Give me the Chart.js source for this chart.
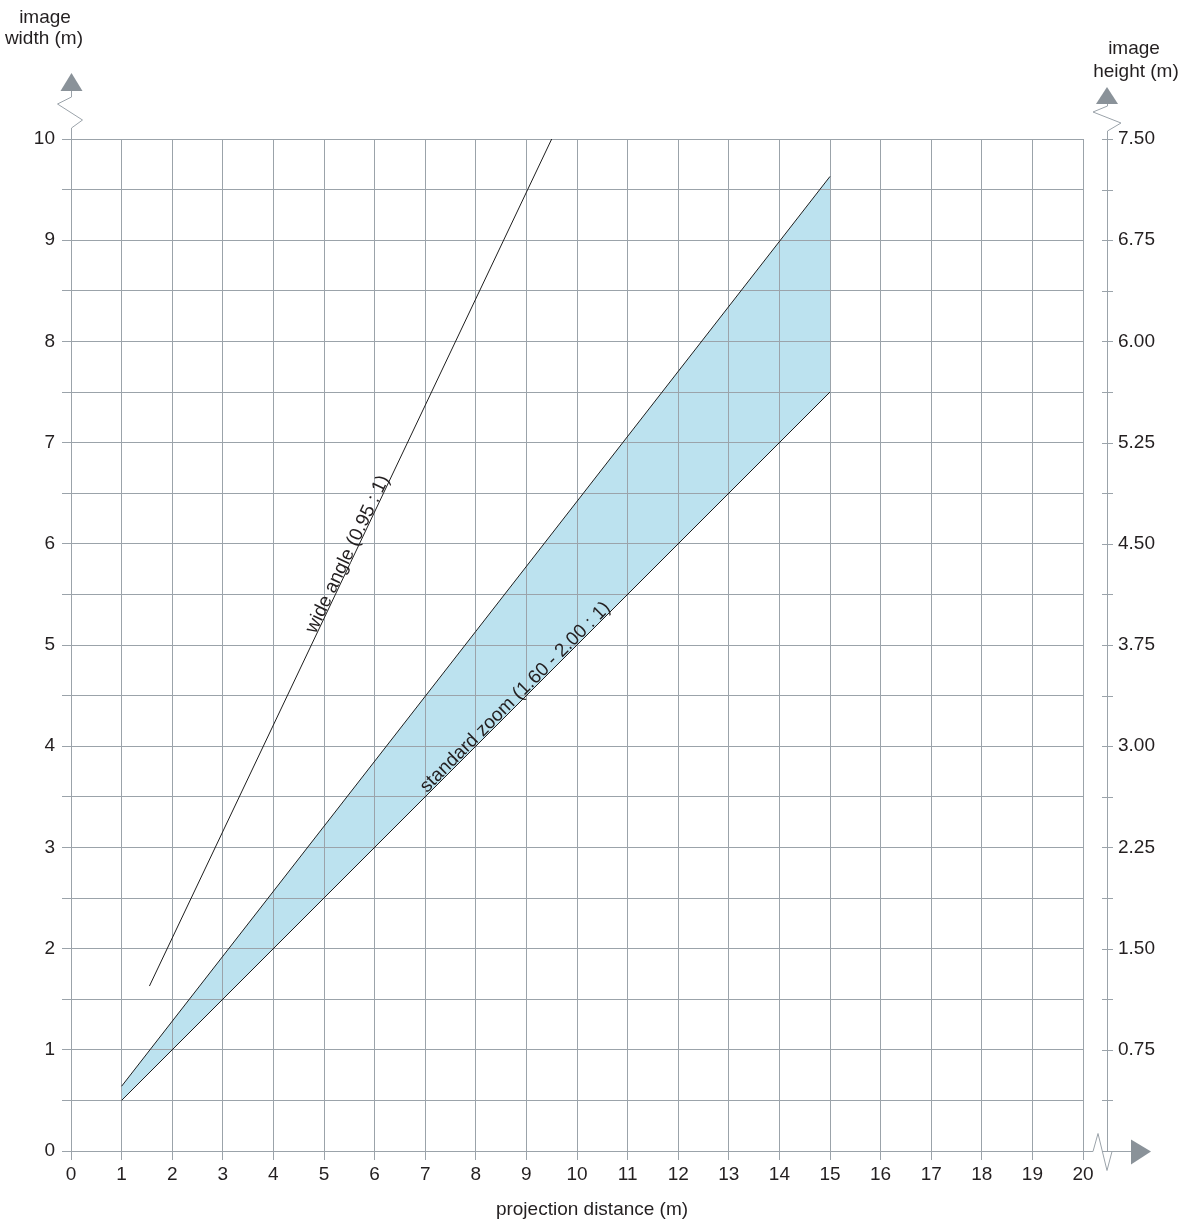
<!DOCTYPE html>
<html>
<head>
<meta charset="utf-8">
<script src="https://cdn.jsdelivr.net/npm/chart.js@4.4.0/dist/chart.umd.min.js"></script>
<style>
  html, body { margin: 0; padding: 0; background: #fff; }
  #wrap { width: 1180px; height: 1224px; }
</style>
</head>
<body>
<div id="wrap"><canvas id="chart"></canvas></div>
<script>
// projection distance (m) vs image width (m)
var zoomDist = [1, 15];
var zoomMaxWidth = [0.64, 9.63];   // upper edge of standard zoom
var zoomMinWidth = [0.5, 7.5];     // lower edge (2.00 : 1)
var wideDist = [1.55, 9.5];
var wideWidth = [1.63, 10];

var gridCol = '#9ba3aa';
var textCol = '#231f20';
var fontFam = '"Liberation Sans", Arial, sans-serif';
var fontSize = 19;

function pts(xs, ys) {
	var out = [];
	for (let i = 0; i < xs.length; i++) out.push({x: xs[i], y: ys[i]});
	return out;
}

function lineLabel(chart, text, xs, ys, cx, cy) {
	var sx = chart.scales.x, sy = chart.scales.y;
	var x0 = sx.getPixelForValue(xs[0]), y0 = sy.getPixelForValue(ys[0]);
	var x1 = sx.getPixelForValue(xs[1]), y1 = sy.getPixelForValue(ys[1]);
	var ang = Math.atan2(y1 - y0, x1 - x0);
	var ctx = chart.ctx;
	ctx.save();
	ctx.translate(sx.getPixelForValue(cx), sy.getPixelForValue(cy));
	ctx.rotate(ang);
	ctx.font = fontSize + 'px ' + fontFam;
	ctx.fillStyle = textCol;
	ctx.textAlign = 'center';
	ctx.textBaseline = 'alphabetic';
	ctx.fillText(text, 0, -1);
	ctx.restore();
}

var extras = {
	id: 'extras',
	beforeDatasetsDraw: function(chart) {
		// grid over the blue band
		chart.scales.x.drawGrid(chart.chartArea);
		chart.scales.y.drawGrid(chart.chartArea);
	},
	afterDraw: function(chart) {
		var ctx = chart.ctx;
		var a = chart.chartArea;
		var y2 = chart.scales.y2;
		var ax = a.right + 24;
		ctx.save();
		ctx.strokeStyle = gridCol;
		ctx.lineWidth = 1;

		// left axis break + arrow
		var lx = a.left + 0.5;
		ctx.beginPath();
		ctx.moveTo(lx, a.top);
		ctx.lineTo(lx, a.top - 11);
		ctx.lineTo(lx + 11, a.top - 19);
		ctx.lineTo(lx - 14, a.top - 35);
		ctx.lineTo(lx, a.top - 42);
		ctx.lineTo(lx, a.top - 48);
		ctx.stroke();

		// right axis line + break
		ctx.beginPath();
		ctx.moveTo(ax + 0.5, a.bottom);
		ctx.lineTo(ax + 0.5, a.top - 8);
		ctx.lineTo(ax + 14, a.top - 16);
		ctx.lineTo(ax - 14, a.top - 27);
		ctx.lineTo(ax + 0.5, a.top - 33);
		ctx.lineTo(ax + 0.5, a.top - 35);
		ctx.stroke();

		// right axis ticks
		y2.ticks.forEach(function(t) {
			var py = Math.round(y2.getPixelForValue(t.value)) + 0.5;
			ctx.beginPath();
			ctx.moveTo(ax - 5, py);
			ctx.lineTo(ax + 6, py);
			ctx.stroke();
		});

		// x axis extension + break
		var by = a.bottom + 0.5;
		ctx.beginPath();
		ctx.moveTo(a.right, by);
		ctx.lineTo(a.right + 10, by);
		ctx.lineTo(a.right + 15, by - 18);
		ctx.lineTo(ax, by + 19);
		ctx.lineTo(ax + 5, by);
		ctx.lineTo(ax + 25, by);
		ctx.stroke();

		// arrow heads
		ctx.fillStyle = '#8a9299';
		ctx.beginPath();
		ctx.moveTo(lx - 11, a.top - 48);
		ctx.lineTo(lx + 11, a.top - 48);
		ctx.lineTo(lx, a.top - 66);
		ctx.closePath();
		ctx.fill();
		ctx.beginPath();
		ctx.moveTo(ax - 11, a.top - 35);
		ctx.lineTo(ax + 11, a.top - 35);
		ctx.lineTo(ax, a.top - 52);
		ctx.closePath();
		ctx.fill();
		ctx.beginPath();
		ctx.moveTo(ax + 24, by - 12);
		ctx.lineTo(ax + 24, by + 13);
		ctx.lineTo(ax + 44, by);
		ctx.closePath();
		ctx.fill();

		// axis titles
		ctx.fillStyle = textCol;
		ctx.font = fontSize + 'px ' + fontFam;
		ctx.textBaseline = 'alphabetic';
		ctx.textAlign = 'center';
		ctx.fillText('image', 45, 23);
		ctx.textAlign = 'right';
		ctx.fillText('width (m)', 83, 44);
		ctx.textAlign = 'center';
		ctx.fillText('image', 1134, 54);
		ctx.fillText('height (m)', 1136, 77);
		ctx.fillText('projection distance (m)', 592, 1215);
		ctx.restore();

		lineLabel(chart, 'wide angle (0.95 : 1)', wideDist, wideWidth, 5.58, 5.87);
		lineLabel(chart, 'standard zoom (1.60 - 2.00 : 1)', zoomDist, zoomMinWidth, 8.87, 4.44);
	}
};

var ctx = document.getElementById('chart').getContext('2d');
var chart = new Chart(ctx, {
	type: 'line',
	data: {
		datasets: [{
			data: pts(zoomDist, zoomMaxWidth),
			borderColor: '#1e1e1e',
			borderWidth: 1,
			backgroundColor: '#bce2ef',
			fill: '+1',
			pointRadius: 0
		}, {
			data: pts(zoomDist, zoomMinWidth),
			borderColor: '#1e1e1e',
			borderWidth: 1,
			fill: false,
			pointRadius: 0
		}, {
			data: pts(wideDist, wideWidth),
			borderColor: '#1e1e1e',
			borderWidth: 1,
			fill: false,
			pointRadius: 0
		}]
	},
	options: {
		responsive: true,
		maintainAspectRatio: false,
		animation: false,
		layout: { padding: { top: 139, left: 0, right: 0, bottom: 0 } },
		plugins: {
			legend: { display: false },
			tooltip: { enabled: false },
			filler: { drawTime: 'beforeDatasetsDraw' }
		},
		scales: {
			x: {
				type: 'linear',
				min: 0, max: 20,
				afterFit: function(s) { s.height = 73; },
				ticks: { stepSize: 1, padding: 3, color: textCol, font: { size: fontSize, family: fontFam } },
				grid: { color: gridCol, tickLength: 9 },
				border: { color: gridCol }
			},
			y: {
				min: 0, max: 10,
				afterFit: function(s) { s.width = 71; },
				ticks: {
					stepSize: 0.5, padding: 7, color: textCol, autoSkip: false,
					font: { size: fontSize, family: fontFam },
					callback: function(v) { return Number.isInteger(v) ? v : ''; }
				},
				grid: { color: gridCol, tickLength: 9 },
				border: { color: gridCol }
			},
			y2: {
				position: 'right',
				min: 0, max: 7.5,
				afterFit: function(s) { s.width = 97; },
				ticks: {
					stepSize: 0.375, padding: 35, color: textCol, autoSkip: false,
					font: { size: fontSize, family: fontFam },
					callback: function(v) { return (v > 0 && v % 0.75 === 0) ? v.toFixed(2) : ''; }
				},
				grid: { drawOnChartArea: false, drawTicks: false },
				border: { display: false }
			}
		}
	},
	plugins: [extras]
});
</script>
</body>
</html>
